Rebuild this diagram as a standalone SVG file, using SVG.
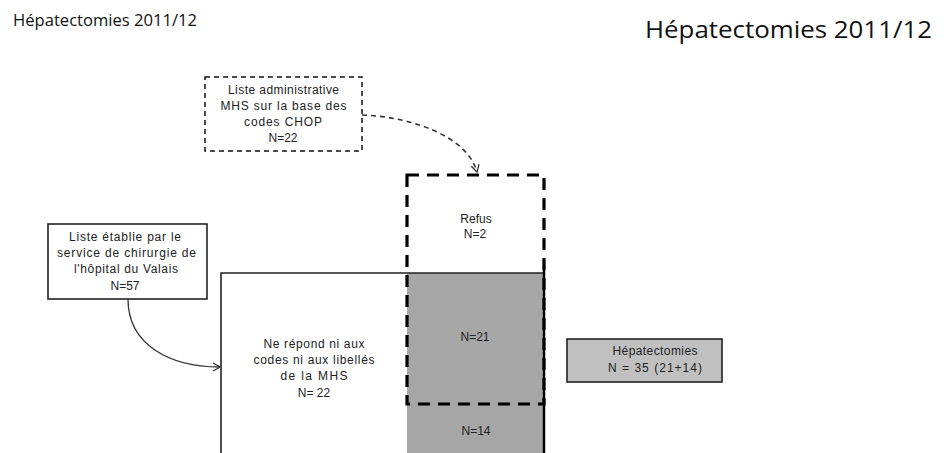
<svg xmlns="http://www.w3.org/2000/svg" width="948" height="453" viewBox="0 0 948 453">
<style>
.t{font-family:"Liberation Sans",Arial,sans-serif;font-size:12px;fill:#222;text-anchor:middle}
.title{font-family:"Open Sans","Liberation Sans",sans-serif;fill:#111}
.dash{fill:none;stroke:#111;stroke-width:1.5;stroke-dasharray:5,4}
.bigdash{fill:none;stroke:#000;stroke-width:3.2;stroke-dasharray:12,8}
.solid{fill:none;stroke:#222;stroke-width:1.6}
</style>
<defs>
<marker id="arr" markerUnits="userSpaceOnUse" markerWidth="12" markerHeight="12" refX="8" refY="5" orient="auto">
<path d="M1,1 L8,5 L1,9" fill="none" stroke="#333" stroke-width="1.3"/>
</marker>
</defs>
<rect width="948" height="453" fill="#fff"/>
<text class="title" x="13" y="26" font-size="16" textLength="184" lengthAdjust="spacingAndGlyphs">Hépatectomies 2011/12</text>
<text class="title" x="645" y="38" font-size="24" textLength="287" lengthAdjust="spacingAndGlyphs">Hépatectomies 2011/12</text>

<g id="main-rect">
<rect x="407" y="273" width="137" height="190" fill="#a6a6a6"/>
<path class="solid" d="M221,460 V273 H544 V460"/>
<path d="M544,265 V460" stroke="#000" stroke-width="2.5" fill="none"/>
<text class="t" x="314" y="348" textLength="101">Ne répond ni aux</text>
<text class="t" x="314" y="364" textLength="121">codes ni aux libellés</text>
<text class="t" x="314" y="380" textLength="67">de la MHS</text>
<text class="t" x="314" y="397">N= 22</text>
<text class="t" x="475" y="341">N=21</text>
<text class="t" x="476" y="435">N=14</text>
</g>

<g id="refus">
<rect class="bigdash" x="407" y="175" width="137" height="229"/>
<text class="t" x="476" y="223">Refus</text>
<text class="t" x="475" y="238">N=2</text>
</g>

<g id="liste-admin">
<rect class="dash" x="205" y="77" width="157" height="74"/>
<text class="t" x="283.5" y="94" textLength="111">Liste administrative</text>
<text class="t" x="283.5" y="110" textLength="126">MHS sur la base des</text>
<text class="t" x="283" y="126" textLength="78">codes  CHOP</text>
<text class="t" x="283" y="142">N=22</text>
</g>

<g id="liste-etablie">
<rect x="48" y="224" width="159" height="75" fill="#fff" stroke="#222" stroke-width="1.6"/>
<text class="t" x="125" y="241" textLength="112">Liste établie par le</text>
<text class="t" x="126.5" y="257" textLength="139">service de chirurgie de</text>
<text class="t" x="126" y="273" textLength="104">l'hôpital du Valais</text>
<text class="t" x="125" y="290">N=57</text>
</g>

<g id="hepatectomies">
<rect x="567" y="339" width="155" height="43" fill="#c0c0c0" stroke="#222" stroke-width="1.6"/>
<text class="t" x="655" y="355" textLength="85">Hépatectomies</text>
<text class="t" x="655" y="372" textLength="94">N = 35 (21+14)</text>
</g>

<g id="connectors">
<path d="M362,115 C415,117 468,138 477,172" fill="none" stroke="#333" stroke-width="1.6" stroke-dasharray="5,4" marker-end="url(#arr)"/>
<path d="M128,299 C128,345 170,367 220,367" fill="none" stroke="#333" stroke-width="1.3" marker-end="url(#arr)"/>
</g>
</svg>
